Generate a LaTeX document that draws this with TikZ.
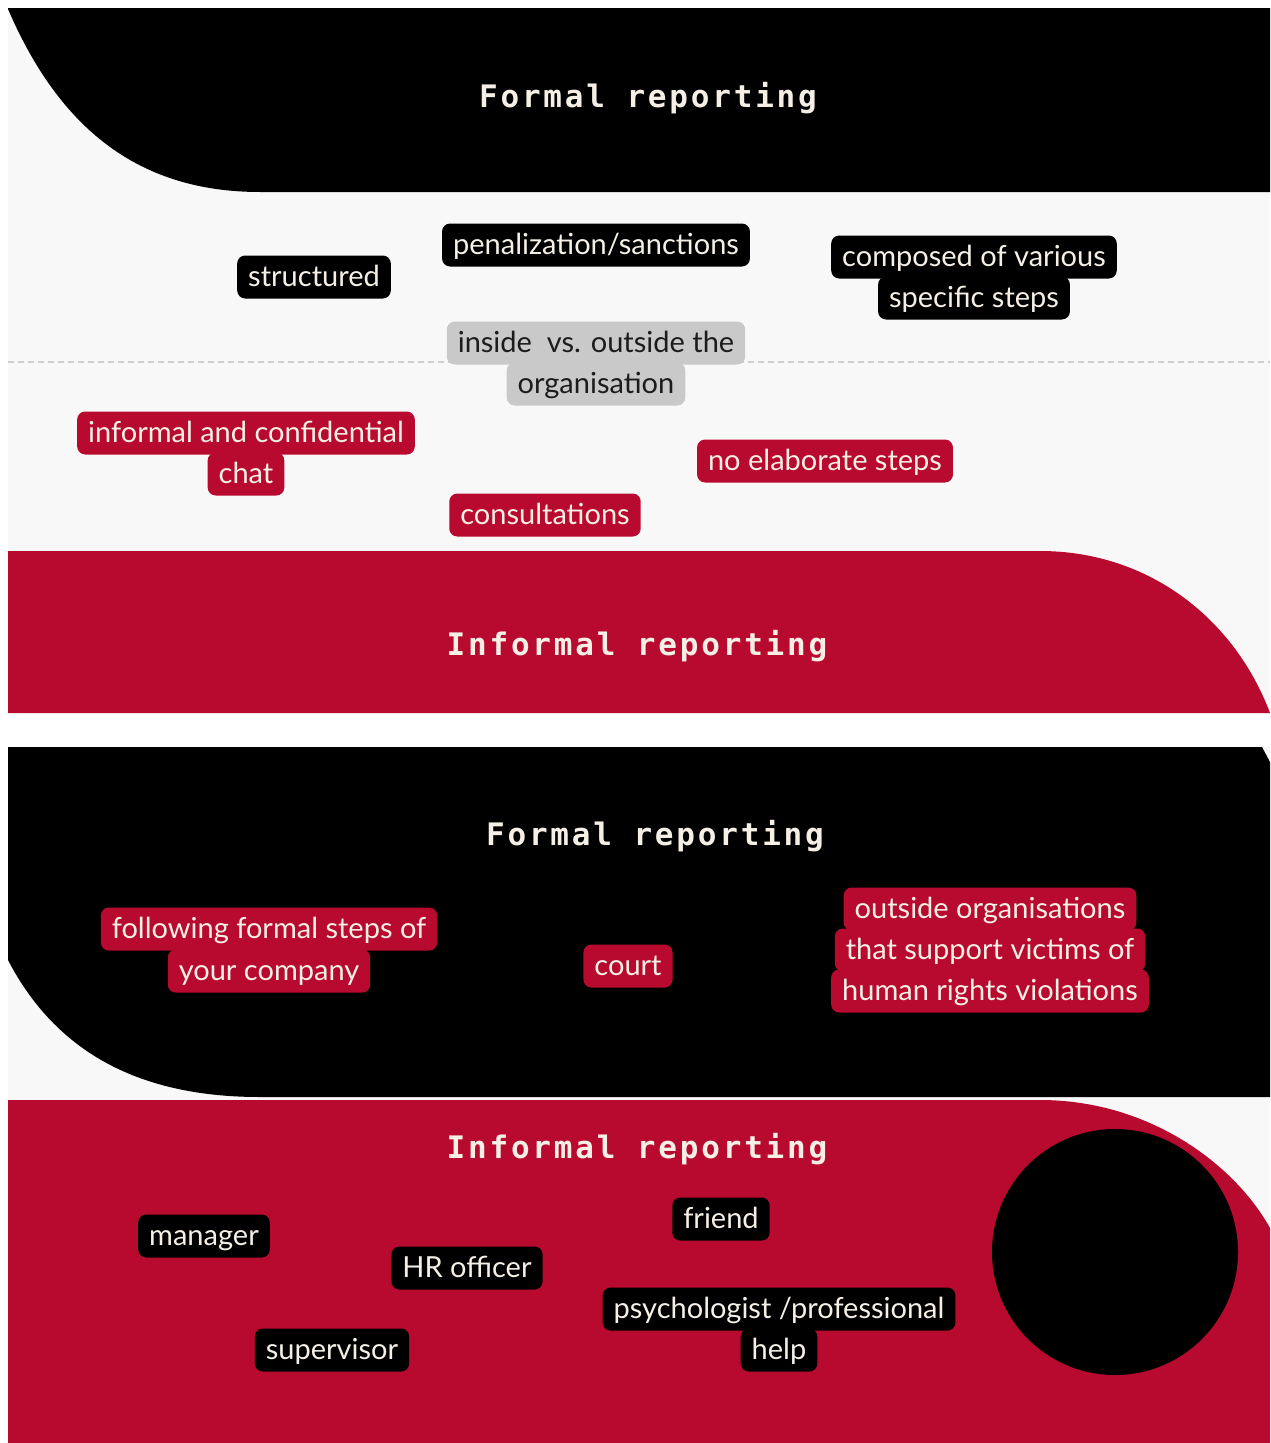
\documentclass[tikz,border=0pt]{standalone}
\usepackage{fontspec}
\newfontfamily\lblfont{Lato}
\newfontfamily\ttlfont[LetterSpace=9]{DejaVu Sans Mono}
\definecolor{brandred}{HTML}{B80A2E}
\definecolor{paper}{HTML}{F8F8F8}
\definecolor{cream}{HTML}{F5EFE6}
\definecolor{tagGrey}{HTML}{C9C9C9}
\definecolor{ink}{HTML}{1C1C1C}
\definecolor{rule}{HTML}{CFCFCF}
\begin{document}
\begin{tikzpicture}[x=1pt,y=-1pt,
  tag/.style={rounded corners=8pt, inner xsep=11pt, inner ysep=0pt,
    minimum height=43pt, text height=22pt, text depth=3pt,
    font=\lblfont\fontsize{29}{32}\selectfont, text=cream},
  blacktag/.style={tag, fill=black},
  redtag/.style={tag, fill=brandred},
  greytag/.style={tag, fill=tagGrey, text=ink},
  heading/.style={font=\ttlfont\bfseries\fontsize{31}{34}\selectfont, text=cream, inner sep=0pt}]

% canvas
\useasboundingbox (0,0) rectangle (1271,1443);
\fill[white] (0,0) rectangle (1271,1443);

% ---------- first panel ----------
\fill[paper] (8,8) rectangle (1270,713);
\fill[black] (8,8) -- (1270,8) -- (1270,192) -- (260,192)
  .. controls (140,192) and (60,130) .. (8,9) -- cycle;
\fill[brandred] (8,713) -- (8,551) -- (1040,551)
  .. controls (1150,551) and (1235,620) .. (1270,713) -- cycle;
\draw[rule, line width=1.5pt, dash pattern=on 6pt off 4pt] (8,362) -- (1270,362);

\node[heading] (formalA) at (648,98) {Formal reporting};
\node[heading] (informalA) at (637,646) {Informal reporting};

\node[blacktag] (structured) at (314,277) {structured};
\node[blacktag] (penal) at (596,245) {penalization/sanctions};
\node[blacktag] (composedA) at (974,257) {composed of various};
\node[blacktag] (composedB) at (974,298) {specific steps};

\node[greytag] (insideA) at (596,343) {inside\ \ vs. outside the};
\node[greytag] (insideB) at (596,384) {organisation};

\node[redtag] (chatA) at (246,433) {informal and confidential};
\node[redtag] (chatB) at (246,474) {chat};
\node[redtag] (elab) at (825,461) {no elaborate steps};
\node[redtag] (consult) at (545,515) {consultations};

% ---------- second panel ----------
\fill[paper] (8,747) rectangle (1270,1443);
\fill[black] (8,747) -- (1262,747) -- (1270,762) -- (1270,1097) -- (260,1097)
  .. controls (150,1097) and (60,1060) .. (8,960) -- cycle;
\fill[brandred] (8,1443) -- (8,1100) -- (1040,1100)
  .. controls (1150,1100) and (1235,1165) .. (1270,1228) -- (1270,1443) -- cycle;
\fill[black] (1115,1252) circle[radius=123];

\node[heading] (formalB) at (655,836) {Formal reporting};
\node[heading] (informalB) at (637,1149) {Informal reporting};

\node[redtag] (stepsA) at (269,929) {following formal steps of};
\node[redtag] (stepsB) at (269,971) {your company};
\node[redtag] (court) at (628,966) {court};
\node[redtag] (outsideA) at (990,909) {outside organisations};
\node[redtag] (outsideB) at (990,950) {that support victims of};
\node[redtag] (outsideC) at (990,991) {human rights violations};

\node[blacktag] (manager) at (204,1236) {manager};
\node[blacktag] (friend) at (721,1219) {friend};
\node[blacktag] (hr) at (467,1268) {HR officer};
\node[blacktag] (psychA) at (779,1309) {psychologist /professional};
\node[blacktag] (psychB) at (779,1350) {help};
\node[blacktag] (supervisor) at (332,1350) {supervisor};
\end{tikzpicture}
\end{document}
